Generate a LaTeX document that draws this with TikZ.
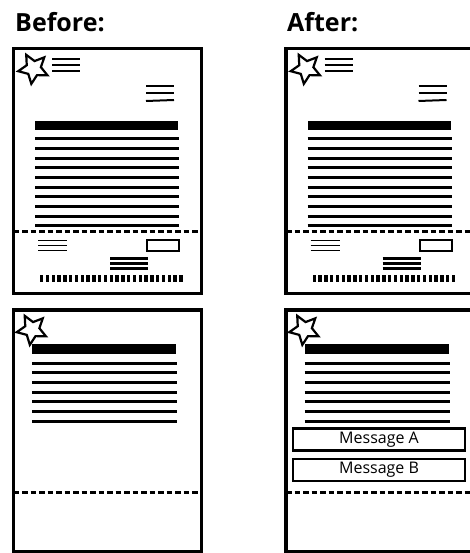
\documentclass[tikz,border=0pt]{standalone}
\usepackage{fontspec}
\setmainfont{Open Sans}
\usetikzlibrary{calc}

\begin{document}
\begin{tikzpicture}[x=1pt,y=-1pt,
    frame/.style={line width=3.4pt},
    rule/.style={line width=3pt},
    thinrule/.style={line width=2pt},
    heavyrule/.style={line width=3.6pt},
    cut/.style={line width=3pt,dash pattern=on 5.5pt off 3pt},
    starline/.style={line width=2.2pt,line join=miter},
    heading/.style={font=\fontsize{25}{25}\selectfont\bfseries,inner sep=0pt,anchor=base west},
    msgbox/.style={draw,line width=2.2pt,minimum width=172pt,minimum height=22pt,inner sep=0pt,
      font=\fontsize{16}{16}\selectfont}]
    \useasboundingbox (0,0) rectangle (470,553);
    \clip (0,0) rectangle (470,553);
    % headings
    \node[heading] (before) at (15,32) {Before:};
    \node[heading] (after) at (287,32) {After:};
    % first page, before and after
    \foreach \dx/\nm in {0/b,272.5/a}{
      \begin{scope}[shift={(\dx,0)}]
        \draw[frame] (13.5,48.5) rectangle (201.5,293.5);
        \coordinate (star1\nm) at (33.5,68.5);
        \draw[starline] (star1\nm) ++(98:15.5)
          \foreach \k in {1,...,9}{ -- ($(star1\nm)+({98+36*\k}:{15.5-8*mod(\k,2)})$) } -- cycle;
        \foreach \y in {59,65,71} \draw[thinrule] (52,\y) -- (80,\y);
        \foreach \y in {86,93} \draw[thinrule] (146,\y) -- (174,\y);
        \draw[thinrule] (146,101) -- (174,100);
        \fill (35,121) rectangle (178,130);
        \foreach \i in {0,...,9} \draw[rule] (35,{139+9.65*\i}) -- (179,{139+9.65*\i});
        \draw[cut] (13.5,231) -- (201.5,231);
        \foreach \y in {240.5,245.5,250.5} \draw[line width=1.7pt] (38,\y) -- (67,\y);
        \draw[thinrule] (147,240) rectangle (179,251);
        \foreach \y in {258.5,263.5,268.5} \draw[heavyrule] (110,\y) -- (148,\y);
        \foreach \i in {0,...,24} \fill ({40+5.8*\i},275) rectangle ++(3.4,6.5);
      \end{scope}
    }
    % second page, before and after
    \foreach \dx/\nm in {0/b,272.5/a}{
      \begin{scope}[shift={(\dx,0)}]
        \draw[frame] (13.5,310) rectangle (201.5,551.5);
        \coordinate (star2\nm) at (32,329.5);
        \draw[starline] (star2\nm) ++(98:15.5)
          \foreach \k in {1,...,9}{ -- ($(star2\nm)+({98+36*\k}:{15.5-8*mod(\k,2)})$) } -- cycle;
        \fill (32,344) rectangle (176,354);
        \foreach \i in {0,...,6} \draw[rule] (32,{363+9.7*\i}) -- (177,{363+9.7*\i});
        \draw[cut] (13.5,492) -- (201.5,492);
      \end{scope}
    }
    % added messages
    \node[msgbox] (msgA) at (379,439.5) {Message A};
    \node[msgbox] (msgB) at (379,470) {Message B};
\end{tikzpicture}
\end{document}
